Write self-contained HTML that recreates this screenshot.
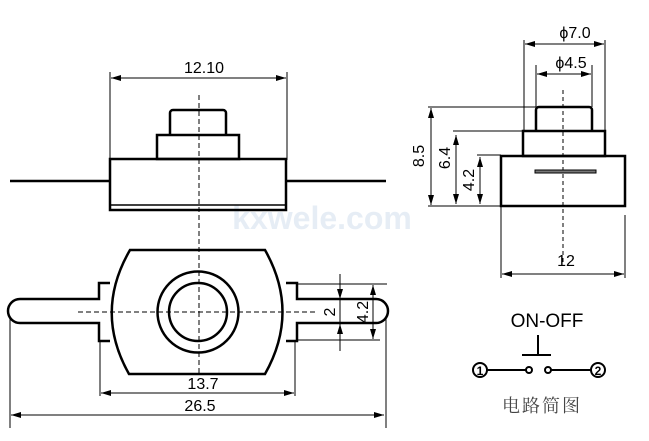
<!DOCTYPE html>
<html><head><meta charset="utf-8"><style>body{margin:0;background:#fff}svg{display:block}</style></head><body>
<svg width="649" height="441" viewBox="0 0 649 441" xmlns="http://www.w3.org/2000/svg" font-family="Liberation Sans, sans-serif">
<defs>
<marker id="a" viewBox="0 0 10 6" refX="10" refY="3" markerWidth="11" markerHeight="6" markerUnits="userSpaceOnUse" orient="auto-start-reverse"><path d="M0,0L10,3L0,6z" fill="#000"/></marker>
</defs>
<text x="322" y="229" font-size="32" font-weight="bold" fill="#e6edf5" text-anchor="middle">kxwele.com</text>
<g stroke="#000" fill="none">
<g stroke-width="1"><line x1="110" y1="72" x2="110" y2="160"/><line x1="287" y1="72" x2="287" y2="160"/>
<line x1="111" y1="78" x2="286" y2="78" marker-start="url(#a)" marker-end="url(#a)"/></g>
<path d="M170,135V113a3,3 0 0 1 3,-3H223a3,3 0 0 1 3,3V135" stroke-width="2.5"/>
<rect x="157" y="135" width="82" height="24" stroke-width="2.5"/>
<rect x="110" y="159" width="176" height="51" stroke-width="2.5"/>
<line x1="110" y1="205" x2="286" y2="205" stroke-width="1.5"/>
<line x1="10" y1="181" x2="110" y2="181" stroke-width="2.5"/>
<line x1="286" y1="181" x2="386" y2="181" stroke-width="2.5"/>
<line x1="199" y1="95" x2="199" y2="312" stroke-width="1" stroke-dasharray="5,3"/>
<path d="M130,250H265Q300,312 265,374H129Q94,312 130,250Z" stroke-width="2.5"/>
<path d="M110,283H99V299H20a12,12 0 0 0 0,24H99V341H110" stroke-width="2.5"/>
<path d="M286,283H297V299H376a12,12 0 0 1 0,24H297V341H286" stroke-width="2.5"/>
<circle cx="198" cy="312" r="40.5" stroke-width="2.5"/>
<circle cx="198" cy="312" r="29" stroke-width="2.5"/>
<line x1="78" y1="312" x2="315" y2="312" stroke-width="1" stroke-dasharray="5,3"/>
<line x1="199" y1="312" x2="199" y2="375" stroke-width="1" stroke-dasharray="5,3"/>
<g stroke-width="1">
<line x1="100" y1="341" x2="100" y2="396"/><line x1="295" y1="341" x2="295" y2="396"/>
<line x1="101" y1="393" x2="294" y2="393" marker-start="url(#a)" marker-end="url(#a)"/>
<line x1="10" y1="318" x2="10" y2="428"/><line x1="386" y1="318" x2="386" y2="428"/>
<line x1="11" y1="415" x2="384" y2="415" marker-start="url(#a)" marker-end="url(#a)"/>
<line x1="297" y1="284" x2="387" y2="284"/><line x1="297" y1="340" x2="380" y2="340"/>
<line x1="340" y1="274" x2="340" y2="299" marker-end="url(#a)"/>
<line x1="340" y1="351" x2="340" y2="324" marker-end="url(#a)"/>
<line x1="340" y1="299" x2="340" y2="324"/>
<line x1="373" y1="285" x2="373" y2="339" marker-start="url(#a)" marker-end="url(#a)"/>
</g>
<g stroke-width="1">
<line x1="524" y1="40" x2="524" y2="131"/><line x1="605" y1="40" x2="605" y2="131"/>
<line x1="525" y1="44" x2="604" y2="44" marker-start="url(#a)" marker-end="url(#a)"/>
<line x1="536" y1="65" x2="536" y2="107"/><line x1="592" y1="65" x2="592" y2="107"/>
<line x1="537" y1="74" x2="591" y2="74" marker-start="url(#a)" marker-end="url(#a)"/>
<line x1="428" y1="107" x2="536" y2="107"/><line x1="453" y1="131" x2="523" y2="131"/>
<line x1="477" y1="155" x2="501" y2="155"/><line x1="428" y1="206" x2="501" y2="206"/>
<line x1="431" y1="108" x2="431" y2="205" marker-start="url(#a)" marker-end="url(#a)"/>
<line x1="456" y1="135" x2="456" y2="204" marker-start="url(#a)" marker-end="url(#a)"/>
<line x1="480" y1="157" x2="480" y2="204" marker-start="url(#a)" marker-end="url(#a)"/>
<line x1="501" y1="206" x2="501" y2="278"/><line x1="625" y1="215" x2="625" y2="278"/>
<line x1="502" y1="274" x2="624" y2="274" marker-start="url(#a)" marker-end="url(#a)"/>
<line x1="563" y1="90" x2="563" y2="262" stroke-dasharray="4,3"/>
</g>
<path d="M536,131V110a3,3 0 0 1 3,-3H589a3,3 0 0 1 3,3V131" stroke-width="2.5"/>
<rect x="523" y="131" width="82" height="25" stroke-width="2.5"/>
<rect x="501" y="156" width="124" height="50" stroke-width="2.5"/>
<rect x="535" y="170" width="61" height="3" fill="#777" stroke-width="1"/>
<g stroke-width="2">
<line x1="538" y1="335" x2="538" y2="355"/><line x1="522" y1="355" x2="551" y2="355"/>
<line x1="487" y1="370" x2="526" y2="370"/><line x1="551" y1="370" x2="591" y2="370"/>
<circle cx="529" cy="370" r="3" fill="#fff"/><circle cx="548" cy="370" r="3" fill="#fff"/>
<circle cx="480" cy="370" r="7"/><circle cx="598" cy="370" r="7"/>
</g>
</g>
<g font-size="16" fill="#000" text-anchor="middle">
<text x="204" y="73">12.10</text>
<text x="203" y="389">13.7</text>
<text x="200" y="411">26.5</text>
<text x="575" y="38">ϕ7.0</text>
<text x="571" y="68">ϕ4.5</text>
<text x="566" y="266">12</text>
<text transform="translate(335,312) rotate(-90)">2</text>
<text transform="translate(368,312) rotate(-90)">4.2</text>
<text transform="translate(424,156) rotate(-90)">8.5</text>
<text transform="translate(450,158) rotate(-90)">6.4</text>
<text transform="translate(474,180) rotate(-90)">4.2</text>
<text x="547" y="327" font-size="19">ON-OFF</text>
<text x="480" y="375" font-size="12" font-weight="bold">1</text>
<text x="598" y="375" font-size="12" font-weight="bold">2</text>
<text x="542" y="412" font-size="18" fill="#444" letter-spacing="2" font-family="Liberation Sans, Noto Serif CJK SC, serif">电路简图</text>
</g>
</svg>
</body></html>
